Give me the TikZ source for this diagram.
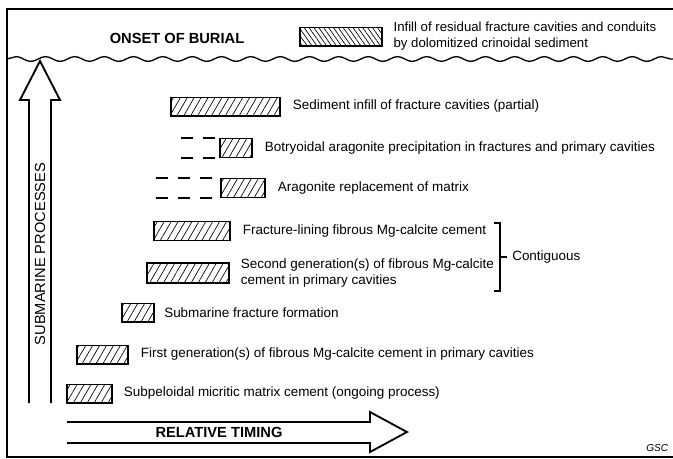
\documentclass[tikz,border=0pt]{standalone}
\usepackage{fontspec}
\setmainfont{Liberation Sans}
\usepackage{tikz}
\usetikzlibrary{calc,decorations.pathmorphing,patterns.meta,positioning}

\begin{document}
\begin{tikzpicture}[x=0.75pt,y=-0.75pt,
    font=\fontsize{10.1}{12}\selectfont,
    bar/.style={draw,line width=1pt,inner sep=0pt,minimum height=14pt,
      pattern={Lines[angle=60,distance=4.5pt,line width=0.5pt]}},
    lbl/.style={anchor=west,inner sep=0pt,align=left},
    caps/.style={font=\fontsize{11}{13}\selectfont\bfseries},
    dashline/.style={line width=0.8pt,dash pattern=on 9pt off 7.5pt},
    bigarrow/.style={line width=1.4pt,line join=miter}]
  \useasboundingbox (0,0) rectangle (673,458);

  % frame and burial surface
  \draw[line width=1pt] (673,9) -- (7,9) -- (7,457) -- (673,457);
  \draw[line width=1pt,decorate,decoration={snake,segment length=22pt,amplitude=1.8pt}]
    (7,59) -- (673,59);
  \node[caps] (burial) at (177,38) {ONSET OF BURIAL};
  \node[bar,minimum width=61.5pt,
    pattern={Lines[angle=-55,distance=3pt,line width=0.5pt]}] (infill) at (341,36.5) {};
  \node[lbl,right=8.25pt of infill,font=\fontsize{9.9}{12}\selectfont] (infilltxt)
    {Infill of residual fracture cavities and conduits\\by dolomitized crinoidal sediment};

  % open arrows
  \draw[bigarrow] (29,403) -- (29,100) -- (20,100) -- (40,61) -- (60,100) -- (51,100) -- (51,403);
  \node[rotate=90,font=\fontsize{11}{13}\selectfont] (subm) at (40,254) {SUBMARINE PROCESSES};
  \draw[bigarrow] (67,422) -- (370,422) -- (370,412) -- (407,432) -- (370,452) -- (370,443) -- (67,443);
  \node[caps] (timing) at (219,432.5) {RELATIVE TIMING};

  % processes, latest at the top
  \node[bar,minimum width=81.75pt] (sed) at (225.5,106.5) {};
  \node[lbl,right=9pt of sed] (sedtxt) {Sediment infill of fracture cavities (partial)};
  \node[bar,minimum width=24pt] (botr) at (236,148) {};
  \node[lbl,right=9pt of botr] (botrtxt) {Botryoidal aragonite precipitation in fractures and primary cavities};
  \node[bar,minimum width=33pt] (arag) at (243,188) {};
  \node[lbl,right=9pt of arag] (aragtxt) {Aragonite replacement of matrix};
  \node[bar,minimum width=57pt] (flin) at (192,231) {};
  \node[lbl,right=9pt of flin] (flintxt) {Fracture-lining fibrous Mg-calcite cement};
  \node[bar,minimum width=61.5pt,minimum height=15pt] (second) at (188,273) {};
  \node[lbl,right=8.25pt of second] (secondtxt)
    {Second generation(s) of fibrous Mg-calcite\\cement in primary cavities};
  \node[bar,minimum width=24pt] (frac) at (138,312.5) {};
  \node[lbl,right=7pt of frac] (fractxt) {Submarine fracture formation};
  \node[bar,minimum width=38.25pt] (first) at (102.5,354.5) {};
  \node[lbl,right=9pt of first] (firsttxt) {First generation(s) of fibrous Mg-calcite cement in primary cavities};
  \node[bar,minimum width=33.75pt] (subp) at (89.5,393.5) {};
  \node[lbl,right=8.25pt of subp] (subptxt) {Subpeloidal micritic matrix cement (ongoing process)};

  % uncertain earlier onset
  \draw[dashline] ($(botr.north west)+(-38,0)$) -- +(34,0);
  \draw[dashline] ($(botr.south west)+(-38,0)$) -- +(34,0);
  \draw[dashline] ($(arag.north west)+(-64,0)$) -- +(56,0);
  \draw[dashline] ($(arag.south west)+(-64,0)$) -- +(56,0);

  % bracket
  \coordinate (brtop) at (500,223);
  \coordinate (brbot) at (500,291);
  \draw[line width=1pt] ($(brtop)+(-6,0)$) -- (brtop) -- (brbot) -- +(-6,0);
  \draw[line width=1pt] ($(brtop)!0.5!(brbot)$) -- +(7,0) coordinate (brtick);
  \node[lbl,right=3.75pt of brtick] (contig) {Contiguous};

  \node[anchor=east,font=\fontsize{7.6}{9}\selectfont\itshape] (gsc) at (673,448) {GSC};
\end{tikzpicture}
\end{document}
